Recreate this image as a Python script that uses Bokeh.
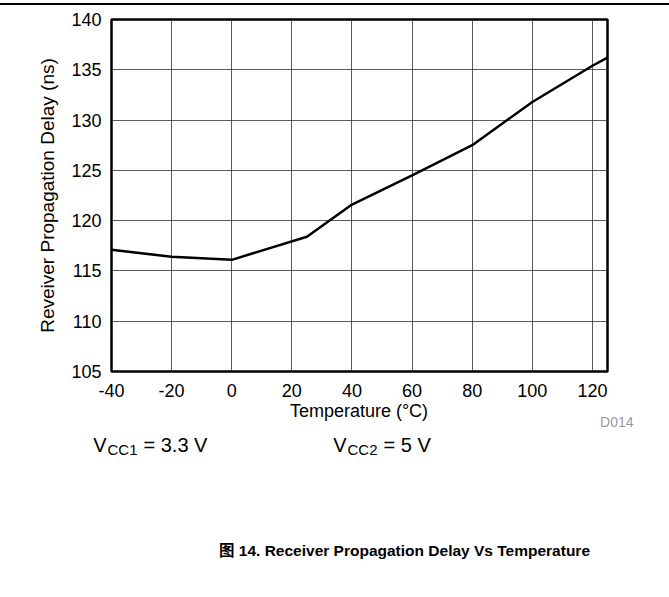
from bokeh.plotting import figure
from bokeh.models import Label, FixedTicker, Range1d, Div
from bokeh.layouts import column
from bokeh.embed import file_html
from bokeh.resources import INLINE

# ---- data ----
temps = [-40, -20, 0, 25, 40, 60, 80, 100, 120, 125]
delays = [117.1, 116.4, 116.1, 118.4, 121.6, 124.5, 127.5, 131.8, 135.4, 136.2]
x_ticks = [-40, -20, 0, 20, 40, 60, 80, 100, 120]
y_ticks = [105, 110, 115, 120, 125, 130, 135, 140]
x_label = "Temperature (°C)"
y_label = "Reveiver Propagation Delay (ns)"
caption = "图 14. Receiver Propagation Delay Vs Temperature"
note1 = ["V", "CC1", "= 3.3 V"]
note2 = ["V", "CC2", "= 5 V"]
code_id = "D014"

FONT = "Liberation Sans"
W = 661

# ---------- top rule strip (page y 0..8) ----------
p0 = Div(text='<div style="position:absolute;top:3px;left:0;width:669px;height:2px;background:black"></div>',
         width=669, height=8, margin=(0, 0, 0, 0),
         styles={"overflow": "visible", "padding": "0", "margin": "0"})

# ---------- chart ----------
H1 = 393
FL, FT, FR = 111, 11, W - 607
FB = H1 - (371 - 8)
X0, X1, Y0, Y1 = -40, 125, 105, 140
p = figure(width=W, height=H1, x_range=Range1d(X0, X1), y_range=Range1d(Y0, Y1),
           output_backend="svg", toolbar_location=None,
           min_border_left=FL, min_border_right=FR,
           min_border_top=FT, min_border_bottom=FB, frame_align=False)
p.background_fill_color = "white"
p.border_fill_color = "white"
p.outline_line_color = "black"
p.outline_line_width = 2.5

p.xaxis.ticker = FixedTicker(ticks=x_ticks)
p.yaxis.ticker = FixedTicker(ticks=y_ticks)
p.xgrid.ticker = FixedTicker(ticks=x_ticks)
p.ygrid.ticker = FixedTicker(ticks=y_ticks)
for g in (p.xgrid, p.ygrid):
    g.grid_line_color = "#333333"
    g.grid_line_width = 1
    g.grid_line_alpha = 0.8

for ax in (p.xaxis, p.yaxis):
    ax.axis_line_color = None
    ax.major_tick_line_color = None
    ax.minor_tick_line_color = None
    ax.major_label_text_font = FONT
    ax.major_label_text_font_size = "18px"
    ax.major_label_text_color = "black"
    ax.axis_label_text_font = FONT
    ax.axis_label_text_font_size = "19px"
    ax.axis_label_text_font_style = "normal"
    ax.axis_label_text_color = "black"

p.xaxis.major_label_overrides = {t: str(t) for t in x_ticks}
p.yaxis.axis_label = y_label
p.xaxis.major_label_standoff = 6
p.yaxis.major_label_standoff = 4
p.yaxis.axis_label_standoff = 10

p.line(temps, delays, line_color="black", line_width=2.5)

# ---------- text strip below (starts at page y ~408) ----------
T0, T1 = 408, 589
p2 = figure(width=W, height=T1 - T0, x_range=Range1d(0, W), y_range=Range1d(T1, T0),
            output_backend="svg", toolbar_location=None, title=None,
            x_axis_type=None, y_axis_type=None, min_border=0,
            frame_align=False)
p2.outline_line_color = None
p2.grid.visible = False


def lab(text, px, py, size, align="left", color="black", style="normal", font=FONT):
    p2.add_layout(Label(x=px, y=py, text=text, text_font=font,
                        text_font_size=size, text_align=align,
                        text_baseline="alphabetic", text_color=color,
                        text_font_style=style))


lab(x_label, 358.5, 417, "18px", align="center")
lab(code_id, 633, 428, "14px", align="right", color="#999999")

lab(note1[0], 92.7, 451.7, "20px")
lab(note1[1], 107, 455.5, "15px")
lab(note1[2], 143, 451.7, "20px")
lab(note2[0], 332.7, 451.7, "20px")
lab(note2[1], 347, 455.5, "15px")
lab(note2[2], 383, 451.7, "20px")

lab(caption, 404, 557, "15.5px", align="center", style="bold",
    font="'Liberation Sans', 'Noto Sans CJK SC'")

layout = column(p0, p, p2, spacing=0)
open("out.html", "w").write(file_html(layout, INLINE))
